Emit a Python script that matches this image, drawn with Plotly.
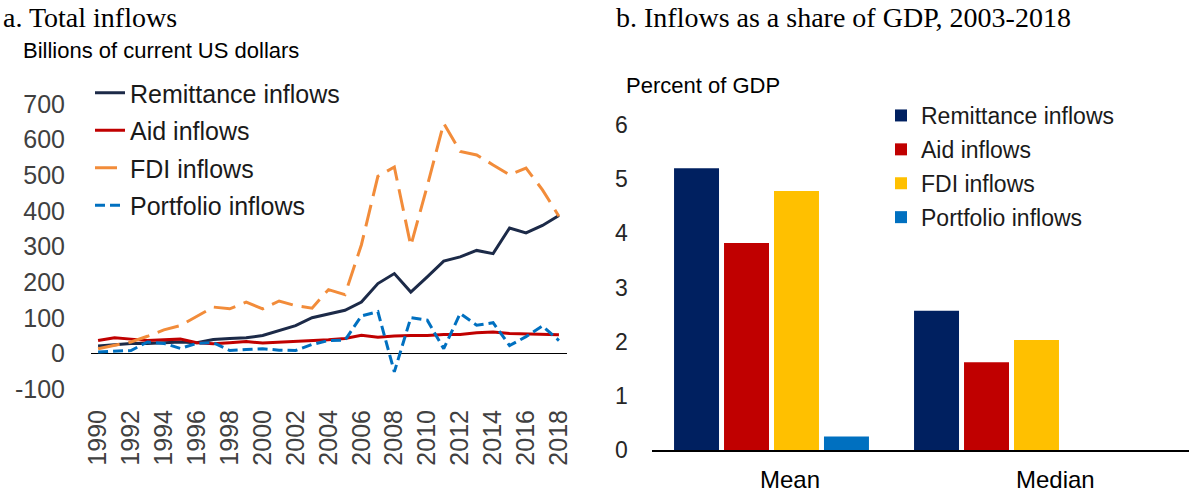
import plotly.graph_objects as go

W, H = 1189, 493

years = list(range(1990, 2019))
remittance = [21, 24, 28, 28, 29, 32, 30, 39, 42, 44, 50, 63, 78, 100, 111, 121, 144, 196,
              224, 172, 215, 259, 271, 289, 280, 352, 338, 359, 387]
aid = [36, 44, 40, 36, 38, 40, 30, 27, 30, 33, 29, 31, 33, 34, 38, 42, 51, 45, 49, 50,
       50, 53, 53, 58, 60, 56, 55, 55, 52]
fdi = [13, 22, 32, 48, 66, 78, 103, 130, 125, 144, 125, 147, 134, 127, 179, 165, 305, 497,
       523, 302, 470, 646, 567, 557, 529, 501, 520, 459, 385]
portfolio = [4, 7, 8, 32, 28, 14, 28, 30, 8, 11, 13, 9, 8, 25, 36, 37, 105, 117, -52, 100,
             93, 13, 112, 79, 86, 22, 47, 77, 36]

ytick_vals = [-100, 0, 100, 200, 300, 400, 500, 600, 700]
ytick_text = ["-100", "0", "100", "200", "300", "400", "500", "600", "700"]

categories = ["Mean", "Median"]
bar_remit = [5.2, 2.57]
bar_aid = [3.82, 1.62]
bar_fdi = [4.78, 2.03]
bar_port = [0.25, None]

line_names = ["Remittance inflows", "Aid inflows", "FDI inflows", "Portfolio inflows"]
line_series = [remittance, aid, fdi, portfolio]
line_colors = ["#1c2a48", "#c00000", "#f28c3a", "#0070c0"]
line_dash = ["solid", "solid", "22px,9px", "10px,5px"]

bar_series = [bar_remit, bar_aid, bar_fdi, bar_port]
bar_colors = ["#002060", "#c00000", "#ffc000", "#0070c0"]

SANS = "Liberation Sans, Arial, sans-serif"
SERIF = "Liberation Serif, Times New Roman, serif"

fig = go.Figure()

for i, (name, ys) in enumerate(zip(line_names, line_series)):
    fig.add_trace(go.Scatter(
        x=years, y=ys, name=name, mode="lines",
        line=dict(color=line_colors[i], width=3, dash=line_dash[i]),
        xaxis="x", yaxis="y", legend="legend", legendgroup="l%d" % i,
    ))

for i, (name, ys) in enumerate(zip(line_names, bar_series)):
    fig.add_trace(go.Bar(
        x=categories, y=ys, name=name, marker=dict(color=bar_colors[i], line=dict(width=0)),
        xaxis="x2", yaxis="y2", legend="legend2", legendgroup="b%d" % i,
    ))

def px_x(p):
    return p / W

def px_y(p):
    return 1 - p / H

fig.update_layout(
    width=W, height=H,
    margin=dict(l=0, r=0, t=0, b=0, pad=0),
    paper_bgcolor="white", plot_bgcolor="white",
    font=dict(family=SANS, color="#404040"),
    barmode="group", bargap=0.167, bargroupgap=0.1,
    xaxis=dict(
        domain=[px_x(91), px_x(567)], range=[1989.57, 2018.49], anchor="y",
        tickmode="linear", tick0=1990, dtick=2, tickangle=-90,
        showgrid=False, zeroline=False, showline=False, automargin=False,
        ticks="outside", ticklen=10, tickcolor="rgba(0,0,0,0)",
        tickfont=dict(size=25, color="#404040"),
    ),
    yaxis=dict(
        domain=[px_y(389), px_y(104)], range=[-100, 700], anchor="x",
        tickmode="array", tickvals=ytick_vals, ticktext=ytick_text,
        showgrid=False, zeroline=True, zerolinecolor="black", zerolinewidth=1.2,
        showline=False, automargin=False,
        ticks="outside", ticklen=20, tickcolor="rgba(0,0,0,0)",
        tickfont=dict(size=25, color="#404040"),
    ),
    xaxis2=dict(
        domain=[px_x(651.5), 1.0], range=[-0.5, 1.7396], type="category", anchor="y2",
        showticklabels=False, showgrid=False, zeroline=False, automargin=False,
        showline=True, linecolor="black", linewidth=1.5, ticks="",
    ),
    yaxis2=dict(
        domain=[px_y(450), px_y(125)], range=[0, 6], anchor="x2",
        tickmode="linear", tick0=0, dtick=1,
        showgrid=False, zeroline=False, showline=False, automargin=False,
        ticks="outside", ticklen=18, tickcolor="rgba(0,0,0,0)",
        tickfont=dict(size=23, color="#262626"),
    ),
    legend=dict(
        x=px_x(90), y=px_y(70), xanchor="left", yanchor="top",
        font=dict(size=25, color="#1a1a1a"), bgcolor="rgba(0,0,0,0)",
        tracegroupgap=2, itemwidth=30,
    ),
    legend2=dict(
        x=px_x(881), y=px_y(94), xanchor="left", yanchor="top",
        font=dict(size=23, color="#1a1a1a"), bgcolor="rgba(0,0,0,0)",
        tracegroupgap=1, itemwidth=30,
    ),
    annotations=[
        dict(text="a. Total inflows", x=px_x(1), y=px_y(0), xref="paper", yref="paper",
             xanchor="left", yanchor="top", showarrow=False,
             font=dict(family=SERIF, size=28, color="black")),
        dict(text="b. Inflows as a share of GDP, 2003-2018", x=px_x(614), y=px_y(0),
             xref="paper", yref="paper", xanchor="left", yanchor="top", showarrow=False,
             font=dict(family=SERIF, size=28, color="black")),
        dict(text="Billions of current US dollars", x=px_x(21), y=px_y(50),
             xref="paper", yref="paper", xanchor="left", yanchor="middle", showarrow=False,
             font=dict(size=22, color="black")),
        dict(text="Percent of GDP", x=px_x(624), y=px_y(86),
             xref="paper", yref="paper", xanchor="left", yanchor="middle", showarrow=False,
             font=dict(size=22, color="black")),
        dict(text=categories[0], x=0.077, y=px_y(479), xref="x2", yref="paper",
             xanchor="center", yanchor="middle", showarrow=False,
             font=dict(size=24, color="black")),
        dict(text=categories[1], x=1.185, y=px_y(479), xref="x2", yref="paper",
             xanchor="center", yanchor="middle", showarrow=False,
             font=dict(size=24, color="black")),
    ],
)

fig.write_html(
    "out.html",
    config={"displayModeBar": False},
    post_script="document.body.style.margin='0';document.body.style.overflow='hidden';",
)
